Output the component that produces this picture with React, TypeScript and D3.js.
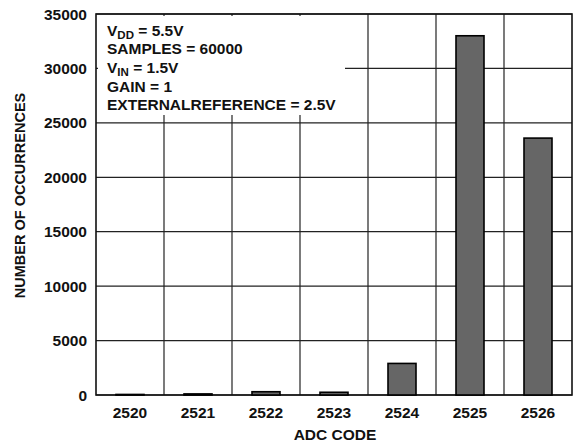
import React from "react";
import * as d3 from "d3";

const categories: string[] = ["2520", "2521", "2522", "2523", "2524", "2525", "2526"];
const occurrences: number[] = [50, 100, 300, 250, 2900, 33000, 23600];
const yTicks: number[] = [0, 5000, 10000, 15000, 20000, 25000, 30000, 35000];
const legendLines: { main: string; sub?: string; rest?: string }[] = [
  { main: "V", sub: "DD", rest: " = 5.5V" },
  { main: "SAMPLES = 60000" },
  { main: "V", sub: "IN", rest: " = 1.5V" },
  { main: "GAIN = 1" },
  { main: "EXTERNALREFERENCE = 2.5V" },
];

const W = 577;
const H = 446;
const M = { left: 96, right: 572, top: 14, bottom: 395 };
const FONT = "'Liberation Sans', Arial, Helvetica, sans-serif";

export default function App() {
  const x = d3.scaleBand<string>().domain(categories).range([M.left, M.right]).paddingInner(0).paddingOuter(0);
  const y = d3.scaleLinear().domain([0, 35000]).range([M.bottom, M.top]);
  const barW = 28;

  return (
    <svg width={W} height={H} style={{ position: "absolute", left: 0, top: 0, background: "#fff" }}>
      <rect x={0} y={0} width={W} height={H} fill="#fff" />
      {/* horizontal gridlines */}
      {yTicks.map((t) => (
        <line key={"h" + t} x1={M.left} x2={M.right} y1={y(t)} y2={y(t)} stroke="#222" strokeWidth={1.2} />
      ))}
      {/* vertical gridlines */}
      {categories.slice(1).map((c) => (
        <line key={"v" + c} x1={x(c)!} x2={x(c)!} y1={M.top} y2={M.bottom} stroke="#222" strokeWidth={1.2} />
      ))}
      {/* legend background */}
      <rect x={98} y={16} width={247} height={99} fill="#fff" />
      {/* frame */}
      <rect x={M.left} y={M.top} width={M.right - M.left} height={M.bottom - M.top} fill="none" stroke="#111" strokeWidth={1.6} />
      {/* bars */}
      {categories.map((c, i) => {
        const cx = x(c)! + x.bandwidth() / 2;
        const top = y(occurrences[i]);
        return (
          <rect
            key={"b" + c}
            x={cx - barW / 2}
            y={top}
            width={barW}
            height={Math.max(M.bottom - top, 0.5)}
            fill="#666666"
            stroke="#000"
            strokeWidth={1.6}
          />
        );
      })}
      {/* y tick labels */}
      {yTicks.map((t) => (
        <text
          key={"yl" + t}
          x={87}
          y={y(t) + 5.5}
          textAnchor="end"
          fontFamily={FONT}
          fontWeight="bold"
          fontSize={15.5}
          fill="#111"
        >
          {t}
        </text>
      ))}
      {/* x tick labels */}
      {categories.map((c) => (
        <text
          key={"xl" + c}
          x={x(c)! + x.bandwidth() / 2}
          y={418}
          textAnchor="middle"
          fontFamily={FONT}
          fontWeight="bold"
          fontSize={15.5}
          fill="#111"
        >
          {c}
        </text>
      ))}
      {/* axis titles */}
      <text x={335} y={440} textAnchor="middle" fontFamily={FONT} fontWeight="bold" fontSize={15.5} fill="#111">
        ADC CODE
      </text>
      <text
        transform={`translate(25, ${195.5}) rotate(-90)`}
        textAnchor="middle"
        fontFamily={FONT}
        fontWeight="bold"
        fontSize={14.5}
        fill="#111"
      >
        NUMBER OF OCCURRENCES
      </text>
      {/* legend text */}
      {legendLines.map((l, i) => (
        <text key={"lg" + i} x={107} y={35.6 + i * 18.7} fontFamily={FONT} fontWeight="bold" fontSize={15.5} fill="#111">
          {l.main}
          {l.sub ? (
            <tspan fontSize={11.5} dy={3}>
              {l.sub}
            </tspan>
          ) : null}
          {l.rest ? <tspan dy={l.sub ? -3 : 0}>{l.rest}</tspan> : null}
        </text>
      ))}
    </svg>
  );
}
